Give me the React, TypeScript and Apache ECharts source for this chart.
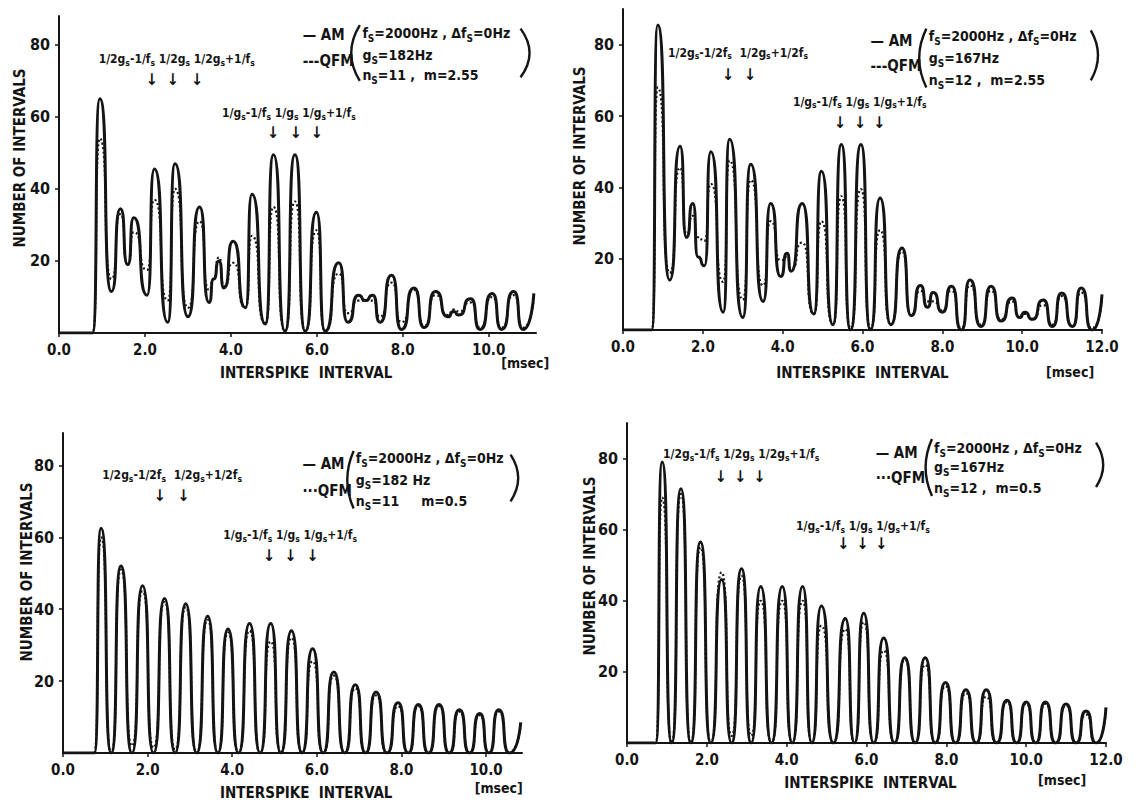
import React, { useEffect, useRef } from "react";
import * as echarts from "echarts";

const FONT = "'DejaVu Sans Condensed', 'Liberation Sans Narrow', 'DejaVu Sans', sans-serif";
const INK = "#141414";

// ---------- Panel 1 (top-left): g=182Hz, n=11, m=2.55 ----------
const tlX = [0, 0.78, 0.95, 1.22, 1.43, 1.6, 1.74, 2.05, 2.22, 2.53, 2.7, 3.0, 3.27, 3.49, 3.6, 3.72, 3.84, 4.05, 4.34, 4.49, 4.8, 4.99, 5.26, 5.49, 5.73, 5.99, 6.19, 6.51, 6.72, 6.97, 7.13, 7.3, 7.47, 7.74, 7.97, 8.26, 8.5, 8.76, 9.05, 9.18, 9.3, 9.58, 9.8, 10.08, 10.3, 10.58, 10.8, 11.05];
const tlAM = [0, 0, 65, 11.5, 34.5, 19, 32, 10.5, 45.5, 3, 47, 4.5, 35, 8.5, 15, 20, 12.5, 25.5, 7, 38.5, 2.5, 49.5, 0.5, 49.5, 0.5, 33.5, 0.5, 19.5, 3, 10.5, 9, 10.5, 3, 16, 1, 12.5, 1.5, 11.5, 4.5, 6, 5, 9.5, 1, 11, 1, 11.5, 1, 11];
const tlQFM = [0, 0, 54, 15, 33, 19, 28, 17.5, 37, 9, 40, 7, 31, 12, 15, 21, 13, 19.5, 7, 27, 2.5, 35, 0.5, 36.5, 0.5, 28.5, 0.5, 16.5, 5.5, 9, 9, 9, 4.5, 14, 3, 12, 2, 10.5, 5, 6.5, 6, 8.5, 1.5, 10, 1.5, 10.5, 1.5, 10];

// ---------- Panel 2 (top-right): g=167Hz, n=12, m=2.55 ----------
const trX = [0, 0.72, 0.87, 1.17, 1.43, 1.59, 1.75, 1.88, 2.04, 2.2, 2.51, 2.67, 3.0, 3.2, 3.51, 3.7, 3.95, 4.11, 4.21, 4.49, 4.78, 4.97, 5.26, 5.47, 5.7, 5.96, 6.2, 6.44, 6.71, 6.99, 7.22, 7.45, 7.63, 7.77, 8.0, 8.23, 8.48, 8.69, 8.97, 9.22, 9.47, 9.75, 9.93, 10.07, 10.25, 10.53, 10.76, 10.99, 11.26, 11.48, 11.75, 12.0];
const trAM = [0, 0, 85.5, 14, 51.5, 26, 35.5, 20.5, 18, 50, 5, 53.5, 3.5, 46.5, 8, 35.5, 15, 21.5, 16.5, 35.5, 4.5, 44.5, 1.5, 52, 0, 52, 0, 37, 1.5, 23, 4, 12.5, 6.4, 10.5, 5, 12.3, 0, 14, 1, 12.3, 2.5, 9, 3.5, 5, 3, 8.4, 1, 10.4, 1, 11.8, 0, 10];
const trQFM = [0, 0, 68, 16, 45.5, 27, 32, 26, 25, 41, 13.5, 47.5, 8.5, 42, 12.5, 30.5, 19.5, 20.5, 17, 24.5, 4.5, 30.5, 1.5, 37.5, 0.5, 39.5, 0.5, 28, 1.5, 22, 4, 11, 8, 8, 5.5, 11, 0.5, 12.5, 1.5, 11, 3, 8, 4, 4.5, 3, 7, 1.5, 9.5, 1, 10.5, 0.5, 9];

// ---------- Panel 3 (bottom-left): g=182Hz, n=11, m=0.5 ----------
const blStartX = [0, 0.74];
const blStartY = [0, 0];
const blPeakX = [0.9, 1.37, 1.88, 2.4, 2.9, 3.42, 3.9, 4.41, 4.91, 5.4, 5.9, 6.4, 6.91, 7.4, 7.92, 8.4, 8.89, 9.37, 9.85, 10.3];
const blPeakAM = [62.5, 52, 46.5, 43, 41.5, 38, 34.5, 36, 36, 34, 29, 22.5, 19, 17, 14, 13.5, 13.5, 12, 11, 12];
const blPeakQFM = [60, 51, 45, 42, 40.5, 37, 33.5, 34, 31, 32, 25.5, 21.5, 18, 16, 13, 13, 13, 11.5, 10.5, 11.5];
const blTroughX = [1.14, 1.63, 2.14, 2.65, 3.16, 3.66, 4.15, 4.66, 5.15, 5.65, 6.15, 6.66, 7.15, 7.66, 8.16, 8.64, 9.13, 9.61, 10.07, 10.55];
const blTroughAM = [0, 0, 0, 0, 0, 0, 0, 0, 0, 0, 0, 0, 0, 0, 0, 0, 0, 0, 0, 0];
const blTroughQFM = [0, 2, 1.5, 1, 0, 0, 0, 0, 0, 0, 0, 0, 0, 0, 0, 0, 0, 0, 0, 0];
const blEnd = [10.82, 8.5];

// ---------- Panel 4 (bottom-right): g=167Hz, n=12, m=0.5 ----------
const brStartX = [0, 0.72];
const brStartY = [0, 0];
const brPeakX = [0.88, 1.35, 1.84, 2.37, 2.87, 3.35, 3.89, 4.4, 4.87, 5.47, 5.93, 6.43, 6.96, 7.47, 7.98, 8.49, 9.0, 9.52, 10.0, 10.48, 11.0, 11.5];
const brPeakAM = [79, 71.5, 56.5, 46, 49, 44, 44, 44, 38.5, 35, 36.5, 29.5, 24, 24, 17, 15, 15, 12, 11.5, 11.5, 11, 9];
const brPeakQFM = [69, 70, 55, 48, 47, 40, 40, 40, 33, 32, 34, 26, 23.5, 22, 16, 14, 13, 11.5, 11, 11, 10.5, 8];
const brTroughX = [1.12, 1.6, 2.1, 2.62, 3.11, 3.62, 4.14, 4.63, 5.17, 5.7, 6.18, 6.7, 7.22, 7.72, 8.23, 8.75, 9.26, 9.76, 10.24, 10.74, 11.25, 11.75];
const brTroughAM = [0, 0, 0, 0, 0, 0, 0, 0, 0, 0, 0, 0, 0, 0, 0, 0, 0, 0, 0, 0, 0, 0];
const brTroughQFM = [0, 0, 0, 2, 2, 0, 0, 0, 0, 0, 0, 0, 0, 0, 0, 0, 0, 0, 0, 0, 0, 0];
const brEnd = [12.0, 10];

// ---------- tick labels ----------
const xTicks11 = [0, 2, 4, 6, 8, 10];
const xTicks12 = [0, 2, 4, 6, 8, 10, 12];
const yTicks = [20, 40, 60, 80];

const zip = (xs: number[], ys: number[]) => xs.map((x, k) => [x, ys[k]]);
function arches(sx: number[], sy: number[], px: number[], py: number[], tx: number[], ty: number[], end: number[]) {
  const out: number[][] = zip(sx, sy);
  px.forEach((x, k) => {
    out.push([x, py[k]]);
    out.push([tx[k], ty[k]]);
  });
  out.push(end);
  return out;
}

const sub = (s: string) => `{s|${s}}`;
const nn = (s: string) => `{n|${s}}`;
const ann2gf = `{a|1/2g}{b|s}{a|-1/f}{b|s}{a| 1/2g}{b|s}{a| 1/2g}{b|s}{a|+1/f}{b|s}`;
const ann2g2f = `{a|1/2g}{b|s}{a|-1/2f}{b|s}{a|  1/2g}{b|s}{a|+1/2f}{b|s}`;
const ann1g = `{a|1/g}{b|s}{a|-1/f}{b|s}{a| 1/g}{b|s}{a| 1/g}{b|s}{a|+1/f}{b|s}`;

const panels = [
  {
    left: 59, top: 16, width: 477, height: 317, xMax: 11.1, yMax: 88, xTicks: xTicks11,
    am: zip(tlX, tlAM), qfm: zip(tlX, tlQFM),
    yName: [20, 158], xName: [5.75, 40], msec: [10.85, 30],
    leg: { x: 5.67, amY: 82.6, qfmY: 75.6, mark: "---", parX: 7.06, lines: [83.3, 77.2, 71.6] },
    open: { x: 7.0, b: 6.8, y1: 85.5, y2: 70 }, close: { x: 10.74, b: 10.95, y1: 84.5, y2: 71 },
    params: [
      nn("f") + sub("S") + nn("=2000Hz , Δf") + sub("S") + nn("=0Hz"),
      nn("g") + sub("S") + nn("=182Hz"),
      nn("n") + sub("S") + nn("=11 ,  m=2.55"),
    ],
    ann: [
      { text: ann2gf, x: 2.74, y: 76, arrows: [2.16, 2.65, 3.21], ay: 70.4 },
      { text: ann1g, x: 5.35, y: 61, arrows: [4.98, 5.51, 6.0], ay: 55.6 },
    ],
  },
  {
    left: 623, top: 9, width: 479, height: 321, xMax: 12, yMax: 90, xTicks: xTicks12,
    am: zip(trX, trAM), qfm: zip(trX, trQFM),
    yName: [580, 156], xName: [6.0, 43], msec: [11.2, 42],
    leg: { x: 6.2, amY: 81, qfmY: 74, mark: "---", parX: 7.66, lines: [82.3, 76.2, 70.2] },
    open: { x: 7.6, b: 7.42, y1: 84.5, y2: 68 }, close: { x: 11.72, b: 11.9, y1: 84, y2: 70 },
    params: [
      nn("f") + sub("S") + nn("=2000Hz , Δf") + sub("S") + nn("=0Hz"),
      nn("g") + sub("S") + nn("=167Hz"),
      nn("n") + sub("S") + nn("=12 ,  m=2.55"),
    ],
    ann: [
      { text: ann2g2f, x: 2.88, y: 77.7, arrows: [2.63, 3.18], ay: 71.6 },
      { text: ann1g, x: 5.93, y: 64, arrows: [5.44, 5.94, 6.42], ay: 58.3 },
    ],
  },
  {
    left: 63, top: 433, width: 459, height: 320, xMax: 10.85, yMax: 89, xTicks: xTicks11,
    am: arches(blStartX, blStartY, blPeakX, blPeakAM, blTroughX, blTroughAM, blEnd),
    qfm: arches(blStartX, blStartY, blPeakX, blPeakQFM, blTroughX, blTroughQFM, blEnd),
    yName: [27, 572], xName: [5.75, 40], msec: [10.3, 35],
    leg: { x: 5.66, amY: 80.5, qfmY: 73, mark: "···", parX: 6.92, lines: [82, 76, 70] },
    open: { x: 6.87, b: 6.72, y1: 84, y2: 68 }, close: { x: 10.58, b: 10.76, y1: 83, y2: 70 },
    params: [
      nn("f") + sub("S") + nn("=2000Hz , Δf") + sub("S") + nn("=0Hz"),
      nn("g") + sub("S") + nn("=182 Hz"),
      nn("n") + sub("S") + nn("=11     m=0.5"),
    ],
    ann: [
      { text: ann2g2f, x: 2.58, y: 77.3, arrows: [2.29, 2.85], ay: 71.5 },
      { text: ann1g, x: 5.37, y: 60.6, arrows: [4.87, 5.38, 5.9], ay: 55 },
    ],
  },
  {
    left: 627, top: 423, width: 479, height: 320, xMax: 12, yMax: 90, xTicks: xTicks12,
    am: arches(brStartX, brStartY, brPeakX, brPeakAM, brTroughX, brTroughAM, brEnd),
    qfm: arches(brStartX, brStartY, brPeakX, brPeakQFM, brTroughX, brTroughQFM, brEnd),
    yName: [590, 566], xName: [6.1, 40], msec: [10.9, 37],
    leg: { x: 6.23, amY: 81.7, qfmY: 74.6, mark: "···", parX: 7.69, lines: [83, 77.5, 71.8] },
    open: { x: 7.64, b: 7.48, y1: 85.5, y2: 69.5 }, close: { x: 11.75, b: 11.93, y1: 84.5, y2: 72 },
    params: [
      nn("f") + sub("S") + nn("=2000Hz , Δf") + sub("S") + nn("=0Hz"),
      nn("g") + sub("S") + nn("=167Hz"),
      nn("n") + sub("S") + nn("=12 ,  m=0.5"),
    ],
    ann: [
      { text: ann2gf, x: 2.86, y: 81.2, arrows: [2.35, 2.84, 3.32], ay: 75 },
      { text: ann1g, x: 5.91, y: 61, arrows: [5.42, 5.9, 6.37], ay: 56 },
    ],
  },
];

const tok = (size: number, extra: any = {}) => ({ fontSize: size, fontFamily: FONT, fontWeight: "bold", fill: INK, color: INK, ...extra });

export default function App() {
  const ref = useRef<HTMLDivElement>(null);
  useEffect(() => {
    const chart = echarts.init(ref.current!, null, { renderer: "svg" });
    const option: any = {
      animation: false,
      backgroundColor: "#ffffff",
      grid: panels.map((p) => ({ left: p.left, top: p.top, width: p.width, height: p.height, containLabel: false, outerBoundsMode: "none" })),
      xAxis: panels.map((p, i) => ({
        gridIndex: i, type: "value", min: 0, max: p.xMax, interval: 2,
        axisLine: { show: true, onZero: false, lineStyle: { color: INK, width: 2 } },
        axisTick: { show: true, length: 4, customValues: p.xTicks, lineStyle: { color: INK, width: 1.5 } },
        axisLabel: { customValues: p.xTicks, formatter: (v: number) => v.toFixed(1), color: INK, fontFamily: FONT, fontWeight: "bold", fontSize: 15, margin: 9 },
        splitLine: { show: false },
      })),
      yAxis: panels.map((p, i) => ({
        gridIndex: i, type: "value", min: 0, max: p.yMax, interval: 20,
        axisLine: { show: true, onZero: false, lineStyle: { color: INK, width: 2 } },
        axisTick: { show: true, length: 4, customValues: yTicks, lineStyle: { color: INK, width: 1.5 } },
        axisLabel: { customValues: yTicks, formatter: (v: number) => String(v), color: INK, fontFamily: FONT, fontWeight: "bold", fontSize: 16, margin: 9 },
        splitLine: { show: false },
      })),
      series: panels.flatMap((p, i) => [
        {
          name: "AM", type: "line", xAxisIndex: i, yAxisIndex: i, data: p.am, symbol: "none", showSymbol: false,
          smooth: 0.8, smoothMonotone: "x", silent: true, clip: true,
          lineStyle: { color: INK, width: 3 },
        },
        {
          name: "QFM", type: "line", xAxisIndex: i, yAxisIndex: i, data: p.qfm, symbol: "none", showSymbol: false,
          smooth: 0.8, smoothMonotone: "x", silent: true, clip: true,
          lineStyle: { color: INK, width: 2.2, type: [2, 2.5] },
        },
      ]),
    };
    chart.setOption(option);

    const px = (i: number, x: number, y: number) => chart.convertToPixel({ gridIndex: i } as any, [x, y]) as number[];
    const els: any[] = [];
    const txt = (x: number, y: number, text: string, size: number, align = "left", rich?: any, rotation = 0) => {
      els.push({
        type: "text", x, y, rotation, silent: true,
        style: {
          text, fill: INK, fontSize: size, fontFamily: FONT, fontWeight: "bold",
          align, textAlign: align, verticalAlign: "middle", textVerticalAlign: "middle",
          ...(rich ? { rich } : {}),
        },
      });
    };
    const paren = (i: number, c: { x: number; b: number; y1: number; y2: number }) => {
      const [x1, y1] = px(i, c.x, c.y1);
      const [x2, y2] = px(i, c.x, c.y2);
      const [bx] = px(i, c.b, 0);
      const cpx = x1 + 2 * (bx - x1);
      els.push({
        type: "bezierCurve", silent: true,
        shape: { x1, y1, x2, y2, cpx1: cpx, cpy1: (y1 + y2) / 2 },
        style: { stroke: INK, lineWidth: 2.4, fill: null },
      });
    };
    const richParams = { n: tok(14, { lineHeight: 21 }), s: tok(10, { verticalAlign: "bottom" }) };
    const richAnn = { a: tok(12, { lineHeight: 16 }), b: tok(8.5, { verticalAlign: "bottom" }) };

    panels.forEach((p, i) => {
      txt(p.yName[0], p.yName[1], "NUMBER OF INTERVALS", 15, "center", undefined, Math.PI / 2);
      const [nx, ny] = px(i, p.xName[0], 0);
      txt(nx, ny + p.xName[1], "INTERSPIKE  INTERVAL", 15, "center");
      const [mx, my] = px(i, p.msec[0], 0);
      txt(mx, my + p.msec[1], "[msec]", 14, "center");
      const [lx, ly1] = px(i, p.leg.x, p.leg.amY);
      const [, ly2] = px(i, p.leg.x, p.leg.qfmY);
      txt(lx, ly1, "— AM", 15, "left");
      txt(lx, ly2, p.leg.mark + "QFM", 15, "left");
      p.params.forEach((line, k) => {
        const [qx, qy] = px(i, p.leg.parX, p.leg.lines[k]);
        txt(qx, qy, line, 14, "left", richParams);
      });
      paren(i, p.open);
      paren(i, p.close);
      p.ann.forEach((a) => {
        const [ax, ay] = px(i, a.x, a.y);
        txt(ax, ay, a.text, 12, "center", richAnn);
        a.arrows.forEach((ar) => {
          const [rx, ry] = px(i, ar, a.ay);
          txt(rx, ry, "↓", 16, "center");
        });
      });
    });
    chart.setOption({ graphic: { elements: els } });
    return () => chart.dispose();
  }, []);
  return <div ref={ref} style={{ position: "absolute", left: 0, top: 0, width: 1137, height: 803, background: "#fff" }} />;
}
